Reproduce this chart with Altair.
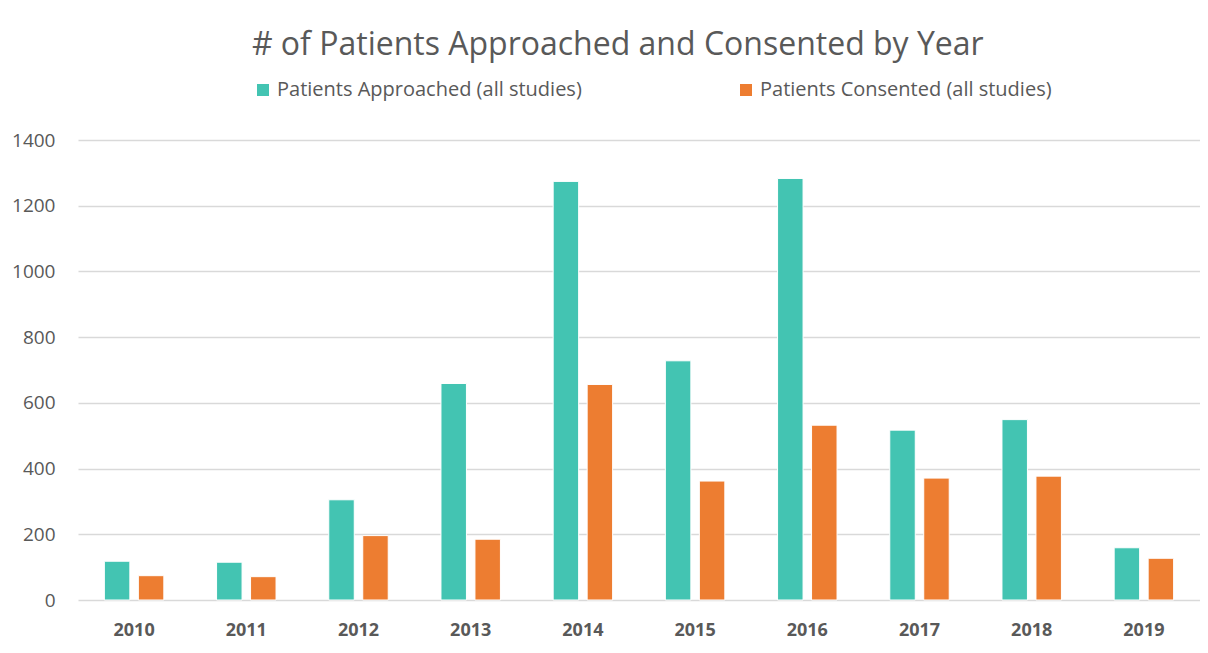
import altair as alt
import pandas as pd

years = ["2010", "2011", "2012", "2013", "2014", "2015", "2016", "2017", "2018", "2019"]
approached = [118, 115, 305, 659, 1274, 728, 1283, 517, 549, 159]
consented = [74, 71, 196, 185, 656, 362, 532, 371, 377, 127]
series = ["Patients Approached (all studies)", "Patients Consented (all studies)"]
colors = ["#43C4B2", "#ED7D31"]
y_ticks = [0, 200, 400, 600, 800, 1000, 1200, 1400]

rows = []
for i, y in enumerate(years):
    rows.append({"year": y, "series": series[0], "value": approached[i]})
    rows.append({"year": y, "series": series[1], "value": consented[i]})
df = pd.DataFrame(rows)

FONT = "Open Sans"
GREY = "#595959"

chart = alt.Chart(df).mark_bar(stroke="white", strokeWidth=1).encode(
    x=alt.X("year:N", sort=years, title=None,
            scale=alt.Scale(paddingInner=0.47, paddingOuter=0.235),
            axis=alt.Axis(labelAngle=0, labelFontWeight="bold", labelFontSize=18,
                          labelColor=GREY, labelFont=FONT, ticks=False, domain=False,
                          labelPadding=21, grid=False)),
    xOffset=alt.XOffset("series:N", sort=series,
                        scale=alt.Scale(paddingInner=0.25, paddingOuter=0)),
    y=alt.Y("value:Q", title=None,
            scale=alt.Scale(domain=[0, 1400]),
            axis=alt.Axis(values=y_ticks, format="d",
                          labelFontSize=19, labelColor=GREY, labelFont=FONT,
                          ticks=False, domain=False, labelPadding=23,
                          gridColor="#d9d9d9", gridWidth=1.5)),
    color=alt.Color("series:N", sort=series,
                    scale=alt.Scale(domain=series, range=colors),
                    legend=alt.Legend(title=None, orient="none", direction="horizontal",
                                      legendX=175, legendY=-60,
                                      symbolType="square", symbolSize=144,
                                      symbolStrokeWidth=0,
                                      labelFontSize=20, labelFont=FONT, labelColor=GREY,
                                      columnPadding=154, labelLimit=400)),
).properties(
    width=1122,
    height=460,
    title=alt.TitleParams("# of Patients Approached and Consented by Year",
                          fontSize=32, font=FONT, color=GREY, fontWeight="normal",
                          anchor="middle", frame="bounds", offset=18, dx=12),
).configure(
    padding={"left": 3, "top": 21, "right": 0, "bottom": 6}
).configure_view(stroke=None)

chart.save("out.html", embed_options={"renderer": "svg", "actions": False})
